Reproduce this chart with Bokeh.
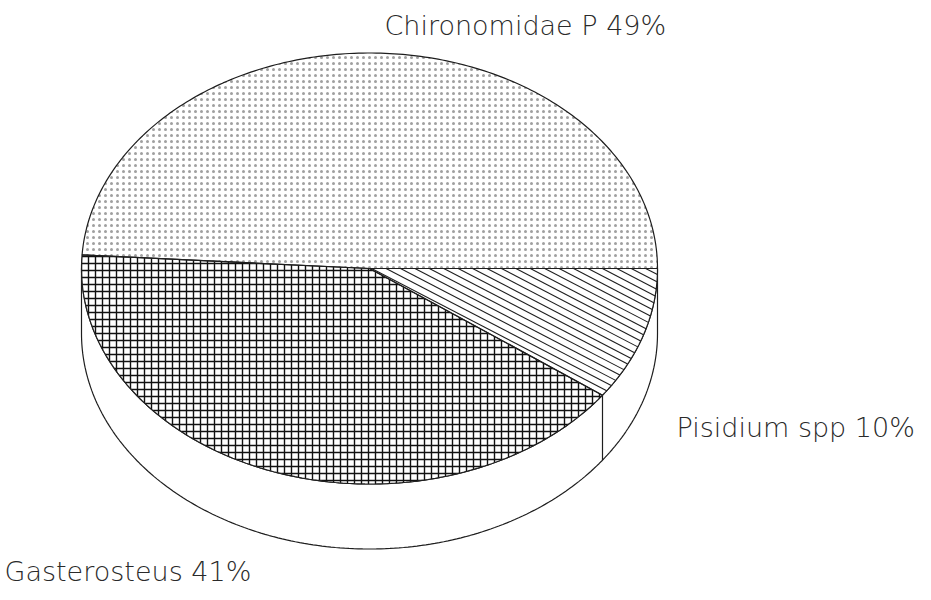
import numpy as np
from bokeh.plotting import figure
from bokeh.models import Range1d, ColumnDataSource
from bokeh.core.properties import value
from bokeh.embed import file_html
from bokeh.resources import INLINE

# ---- data ----
categories = ["Pisidium spp", "Gasterosteus", "Chironomidae P"]
percents = [10, 41, 49]

# ---- styles / layout ----
hatch_styles = ["lines", "+", "."]
label_x = [676, 4, 384]
label_y = [427, 571, 25]

W, H = 920, 590
CX, CY = 369.0, 268.0
RX, RY = 288.0, 215.5
DEPTH = 65.0
INK = "#1e1e1e"

p = figure(width=W, height=H, x_range=Range1d(0, W), y_range=Range1d(H, 0),
           output_backend="svg", toolbar_location=None, min_border=0,
           x_axis_location=None, y_axis_location=None)
p.grid.visible = False
p.outline_line_color = None
p.background_fill_color = "white"
p.border_fill_color = "white"

# angles (clockwise on screen, since y grows downward)
fr = np.array(percents, dtype=float) / sum(percents)
ends = np.cumsum(fr) * 2 * np.pi
starts = np.concatenate([[0.0], ends[:-1]])

# ---- side wall (front half) ----
t = np.linspace(0, np.pi, 200)
wx = list(CX + RX * np.cos(t)) + list(CX + RX * np.cos(t[::-1]))
wy = list(CY + RY * np.sin(t)) + list(CY + DEPTH + RY * np.sin(t[::-1]))
p.patch(wx, wy, fill_color="white", line_color=INK, line_width=1.2)

# vertical edges at slice boundaries in front
for a in starts:
    if 0 < a < np.pi:
        x0 = CX + RX * np.cos(a)
        y0 = CY + RY * np.sin(a)
        p.line([x0, x0], [y0, y0 + DEPTH], line_color=INK, line_width=1.2)

# ---- top wedges ----
polys = []
for s, e in zip(starts, ends):
    tt = np.linspace(s, e, 200)
    xs = [CX] + list(CX + RX * np.cos(tt))
    ys = [CY] + list(CY + RY * np.sin(tt))
    polys.append((xs, ys))

def clip_lines(xs, ys, slope, step):
    xs = np.array(xs); ys = np.array(ys)
    bvals = ys - slope * xs
    segs_x, segs_y = [], []
    b = np.floor(bvals.min() / step) * step
    n = len(xs)
    while b <= bvals.max():
        pts = []
        for i in range(n):
            x1, y1 = xs[i], ys[i]
            x2, y2 = xs[(i + 1) % n], ys[(i + 1) % n]
            f1 = y1 - slope * x1 - b
            f2 = y2 - slope * x2 - b
            if (f1 <= 0 < f2) or (f2 <= 0 < f1):
                tt = f1 / (f1 - f2)
                pts.append(x1 + tt * (x2 - x1))
        if len(pts) >= 2:
            xa, xb = min(pts), max(pts)
            segs_x.append([xa, xb])
            segs_y.append([slope * xa + b, slope * xb + b])
        b += step
    return segs_x, segs_y

for (xs, ys), style in zip(polys, hatch_styles):
    if style == "lines":
        p.patch(xs, ys, fill_color="white", line_color=None)
        sx, sy = clip_lines(xs, ys, 0.52, 7.5)
        p.multi_line(sx, sy, line_color=INK, line_width=1.1)
    elif style == "+":
        p.patch(xs, ys, fill_color="white", line_color=None,
                hatch_pattern="+", hatch_scale=7, hatch_weight=1.4, hatch_color="#111111")
    else:
        p.patch(xs, ys, fill_color="white", line_color=None,
                hatch_pattern=".", hatch_scale=6, hatch_weight=1.0, hatch_color="#a0a0a0")

for xs, ys in polys:
    p.patch(xs, ys, fill_color=None, line_color=INK, line_width=1.2)

# ---- labels ----
texts = [f"{c} {v}%" for c, v in zip(categories, percents)]
src = ColumnDataSource(dict(x=label_x, y=label_y, text=texts))
p.text(x="x", y="y", text="text", source=src,
       text_font=value("'DejaVu Sans Light', 'Liberation Sans'"),
       text_font_size="27px", text_baseline="alphabetic", text_align="left",
       text_color="#2a2a2a")

open("out.html", "w").write(file_html(p, INLINE))
